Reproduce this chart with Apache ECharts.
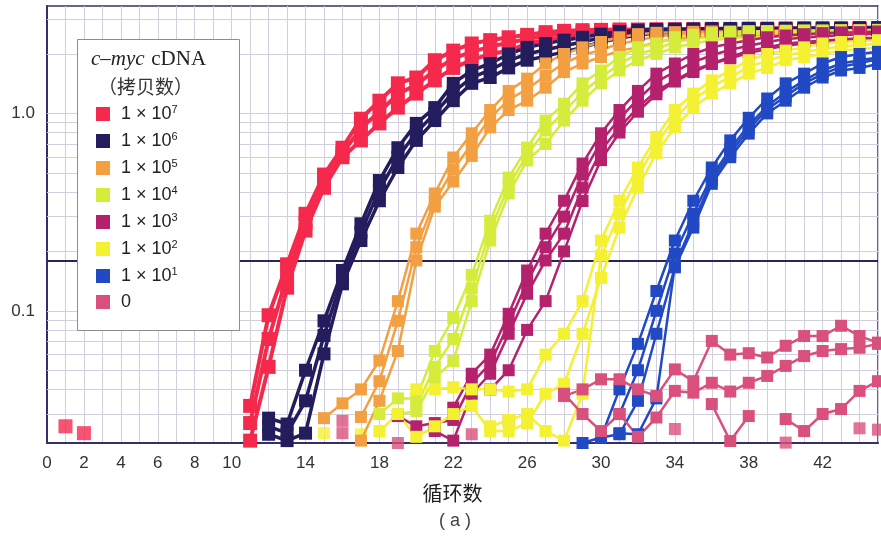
<!DOCTYPE html>
<html>

<head>
  <meta charset="utf-8">
  <title>c-myc cDNA 扩增曲线</title>
  <style>
    html, body { margin: 0; padding: 0; background: #fff; }
    #main { width: 881px; height: 536px; }
  </style>
</head>

<body>
  <div id="main"></div>
  <script type="text/javascript" src="https://cdn.jsdelivr.net/npm/echarts@6/dist/echarts.min.js"></script>
  <script type="text/javascript">
    // 坐标轴
    const xTickLabels = [0, 2, 4, 6, 8, 10, 14, 18, 22, 26, 30, 34, 38, 42];
    const gridValues = [0.03, 0.04, 0.05, 0.06, 0.07, 0.08, 0.09, 0.1, 0.2, 0.3, 0.4, 0.5, 0.6, 0.7, 0.8, 0.9, 1, 2, 3];
    const threshold = 0.18;

    // 图例
    const groupNames = ['1 × 10^7', '1 × 10^6', '1 × 10^5', '1 × 10^4', '1 × 10^3', '1 × 10^2', '1 × 10^1', '0'];
    const groupColors = ['#f4294c', '#231d5e', '#f3a043', '#d5ec3c', '#b4226e', '#f4f032', '#2149c4', '#d9507c'];

    // 每个复孔: [起始循环, 逐循环荧光值]
    const rep7 = [
      [11, [0.033, 0.095, 0.172, 0.31, 0.49, 0.67, 0.94, 1.16, 1.42, 1.52, 1.86, 2.08, 2.26, 2.35, 2.43, 2.5, 2.58, 2.62, 2.64, 2.65, 2.66, 2.66, 2.67, 2.67, 2.67, 2.68, 2.68, 2.68, 2.68, 2.69, 2.69, 2.69, 2.69, 2.69, 2.7]],
      [11, [0.022, 0.052, 0.131, 0.255, 0.42, 0.6, 0.73, 0.89, 1.07, 1.26, 1.47, 1.7, 1.86, 2.0, 2.08, 2.26, 2.35, 2.45, 2.5, 2.55, 2.58, 2.6, 2.62, 2.63, 2.64, 2.65, 2.65, 2.66, 2.66, 2.67, 2.67, 2.67, 2.68, 2.68, 2.68]],
      [11, [0.027, 0.072, 0.15, 0.28, 0.46, 0.63, 0.84, 1.02, 1.25, 1.4, 1.65, 1.9, 2.05, 2.18, 2.28, 2.38, 2.48, 2.55, 2.58, 2.6, 2.61, 2.62, 2.63, 2.63, 2.64, 2.64, 2.65, 2.65, 2.65, 2.66, 2.66, 2.66, 2.66, 2.67, 2.67]]
    ];
    const rep6 = [
      [12, [0.0286, 0.0267, 0.05, 0.089, 0.16, 0.276, 0.457, 0.67, 0.89, 1.07, 1.42, 1.65, 1.79, 2.0, 2.16, 2.26, 2.35, 2.43, 2.52, 2.6, 2.64, 2.66, 2.67, 2.68, 2.69, 2.69, 2.7, 2.7, 2.7, 2.71, 2.71, 2.71, 2.72, 2.72]],
      [12, [0.0237, 0.022, 0.024, 0.0605, 0.137, 0.227, 0.361, 0.532, 0.73, 0.92, 1.16, 1.42, 1.52, 1.7, 1.86, 1.95, 2.05, 2.16, 2.3, 2.4, 2.5, 2.55, 2.58, 2.6, 2.61, 2.62, 2.63, 2.64, 2.64, 2.65, 2.65, 2.66, 2.66, 2.66]],
      [12, [0.026, 0.024, 0.035, 0.075, 0.148, 0.25, 0.41, 0.6, 0.8, 1.0, 1.28, 1.52, 1.66, 1.85, 2.0, 2.1, 2.2, 2.3, 2.42, 2.5, 2.56, 2.6, 2.62, 2.63, 2.64, 2.65, 2.65, 2.66, 2.66, 2.67, 2.67, 2.67, 2.68, 2.68]]
    ];
    const rep5 = [
      [15, [0.0286, 0.034, 0.04, 0.056, 0.112, 0.246, 0.393, 0.598, 0.793, 1.04, 1.3, 1.5, 1.79, 2.0, 2.16, 2.3, 2.43, 2.52, 2.56, 2.58, 2.59, 2.6, 2.6, 2.61, 2.61, 2.62, 2.62, 2.62, 2.63, 2.63, 2.63]],
      [17, [0.022, 0.035, 0.0626, 0.18, 0.337, 0.452, 0.609, 0.85, 1.04, 1.16, 1.35, 1.62, 1.79, 1.93, 2.08, 2.16, 2.3, 2.38, 2.42, 2.45, 2.47, 2.49, 2.5, 2.51, 2.52, 2.53, 2.53, 2.54, 2.54]],
      [17, [0.029, 0.044, 0.089, 0.21, 0.36, 0.52, 0.7, 0.95, 1.17, 1.33, 1.55, 1.8, 1.97, 2.1, 2.25, 2.35, 2.45, 2.5, 2.53, 2.55, 2.56, 2.57, 2.58, 2.58, 2.59, 2.59, 2.6, 2.6, 2.6]]
    ];
    const rep4 = [
      [18, [0.03, 0.036, 0.036, 0.0626, 0.092, 0.152, 0.286, 0.473, 0.671, 0.92, 1.12, 1.42, 1.65, 1.93, 2.16, 2.26, 2.43, 2.5, 2.55, 2.58, 2.6, 2.61, 2.62, 2.63, 2.63, 2.64, 2.64, 2.65]],
      [19, [0.03, 0.031, 0.0457, 0.0557, 0.112, 0.227, 0.393, 0.578, 0.7, 0.92, 1.16, 1.42, 1.65, 1.86, 2.0, 2.16, 2.26, 2.35, 2.4, 2.43, 2.45, 2.47, 2.48, 2.49, 2.5, 2.5, 2.51]],
      [20, [0.033, 0.052, 0.072, 0.13, 0.255, 0.43, 0.62, 0.82, 1.02, 1.28, 1.52, 1.78, 2.0, 2.12, 2.3, 2.38, 2.45, 2.5, 2.53, 2.55, 2.57, 2.58, 2.59, 2.6, 2.6, 2.61]]
    ];
    const rep3 = [
      [22, [0.0323, 0.048, 0.06, 0.0966, 0.16, 0.246, 0.361, 0.557, 0.793, 1.04, 1.3, 1.59, 1.79, 2.0, 2.16, 2.26, 2.35, 2.43, 2.48, 2.52, 2.55, 2.57, 2.58, 2.6]],
      [21, [0.0246, 0.022, 0.038, 0.048, 0.0765, 0.122, 0.18, 0.246, 0.421, 0.649, 0.85, 1.07, 1.3, 1.47, 1.65, 1.79, 1.93, 2.08, 2.16, 2.26, 2.3, 2.34, 2.37, 2.4, 2.42]],
      [19, [0.0293, 0.026, 0.027, 0.028, 0.043, 0.054, 0.086, 0.14, 0.21, 0.3, 0.49, 0.72, 0.94, 1.18, 1.44, 1.63, 1.82, 1.97, 2.1, 2.2, 2.3, 2.38, 2.42, 2.46, 2.49, 2.52, 2.54]],
      [24, [0.04, 0.05, 0.08, 0.112, 0.2, 0.36, 0.58, 0.8, 1.02, 1.25, 1.45, 1.62, 1.78, 1.9, 2.02, 2.12, 2.2, 2.26, 2.3, 2.33, 2.36, 2.38]]
    ];
    const rep2 = [
      [20, [0.04, 0.04, 0.041, 0.04, 0.04, 0.039, 0.04, 0.06, 0.0765, 0.112, 0.227, 0.361, 0.532, 0.76, 1.04, 1.26, 1.47, 1.65, 1.86, 2.0, 2.08, 2.16, 2.26, 2.3, 2.33, 2.35]],
      [18, [0.0246, 0.03, 0.023, 0.026, 0.03, 0.033, 0.0246, 0.0246, 0.027, 0.038, 0.0426, 0.0765, 0.147, 0.264, 0.421, 0.63, 0.85, 1.07, 1.26, 1.42, 1.59, 1.7, 1.86, 1.93, 2.0, 2.08, 2.12, 2.15]],
      [24, [0.026, 0.028, 0.03, 0.0246, 0.022, 0.038, 0.19, 0.31, 0.48, 0.7, 0.95, 1.17, 1.37, 1.53, 1.72, 1.85, 1.97, 2.05, 2.12, 2.18, 2.22, 2.25]]
    ];
    const rep1 = [
      [30, [0.0228, 0.04, 0.068, 0.126, 0.227, 0.361, 0.532, 0.73, 0.95, 1.19, 1.42, 1.59, 1.79, 1.93, 2.0, 2.05]],
      [29, [0.0214, 0.0228, 0.0237, 0.035, 0.0765, 0.166, 0.264, 0.44, 0.6, 0.79, 1.0, 1.16, 1.35, 1.52, 1.65, 1.7, 1.78]],
      [31, [0.03, 0.05, 0.1, 0.195, 0.31, 0.48, 0.66, 0.87, 1.09, 1.28, 1.47, 1.65, 1.79, 1.86, 1.92]],
      [31, [0.024, 0.0237, 0.036, 0.17, 0.28, 0.46, 0.63, 0.83, 1.05, 1.22, 1.42, 1.58, 1.72, 1.8, 1.88]]
    ];
    const rep0 = [
      [28, [0.037, 0.04, 0.045, 0.045, 0.04, 0.037, 0.0505, 0.044, 0.0704, 0.06, 0.061, 0.058, 0.0665, 0.0745, 0.0745, 0.084, 0.0745, 0.069]],
      [28, [0.038, 0.03, 0.0246, 0.03, 0.023, 0.0288, 0.0393, 0.0385, 0.0432, 0.039, 0.0432, 0.0468, 0.0526, 0.059, 0.0626, 0.064, 0.065, 0.068]],
      [36, [0.0337, 0.0219, 0.0293, null, 0.0283, 0.0246, 0.03, 0.0318, 0.0393, 0.044]]
    ];

    // 不连线的单个点 [循环, 荧光值]
    const loose7 = [[1, 0.026], [2, 0.024]];
    const loose2 = [[15, 0.024], [17, 0.0237]];
    const loose0 = [[16, 0.0277], [16, 0.024], [19, 0.0214], [21, 0.0252], [23, 0.0237], [25, 0.0277], [34, 0.0252], [40, 0.0215], [44, 0.0254], [45, 0.025]];

    const allReps = [rep7, rep6, rep5, rep4, rep3, rep2, rep1, rep0];
    const allLoose = [loose7, [], [], [], [], loose2, [], loose0];

    const series = [];
    // 对数坐标纸的横线
    series.push({
      type: 'line',
      name: 'grid',
      data: [],
      silent: true,
      markLine: {
        silent: true,
        z: 1,
        symbol: 'none',
        label: { show: false },
        lineStyle: { color: '#d2cedd', width: 1, type: 'solid' },
        data: gridValues.map(v => ({ yAxis: v }))
      }
    });
    // 阈值线
    series.push({
      type: 'line',
      name: 'threshold',
      data: [],
      silent: true,
      markLine: {
        silent: true,
        z: 1,
        symbol: ['rect', 'none'],
        symbolSize: [9, 0],
        label: { show: false },
        lineStyle: { color: '#2a2554', width: 2, type: 'solid' },
        itemStyle: { color: '#2a2554' },
        data: [{ yAxis: threshold }]
      }
    });

    allReps.forEach((reps, g) => {
      const color = groupColors[g];
      const width = g === 0 ? 4 : (g === 1 ? 3.5 : 2.5);
      const size = g === 0 ? 14 : (g === 1 ? 13 : 12);
      reps.forEach(([start, vals]) => {
        series.push({
          name: groupNames[g],
          type: 'line',
          data: vals.map((v, i) => [start + i, v]),
          symbol: 'rect',
          symbolSize: size,
          showSymbol: true,
          lineStyle: { color: color, width: width },
          itemStyle: { color: color },
          emphasis: { disabled: true }
        });
      });
      if (allLoose[g].length) {
        series.push({
          name: groupNames[g],
          type: 'scatter',
          data: allLoose[g],
          symbol: 'rect',
          symbolSize: size,
          itemStyle: { color: color },
          emphasis: { disabled: true }
        });
      }
    });

    const option = {
      animation: false,
      backgroundColor: '#fff',
      grid: {
        left: 47, right: -8, top: 6, bottom: 93,
        show: true, borderColor: '#35306a', borderWidth: 1.5
      },
      xAxis: {
        type: 'value',
        min: 0,
        max: 45,
        interval: 1,
        axisLine: { lineStyle: { color: '#35306a', width: 2 } },
        axisTick: { show: false },
        axisLabel: {
          formatter: v => (xTickLabels.includes(v) ? String(v) : ''),
          fontSize: 17,
          color: '#333',
          fontFamily: 'Liberation Sans',
          margin: 12
        },
        splitLine: { show: true, lineStyle: { color: '#d2cedd', width: 1 } },
        name: '循环数',
        nameLocation: 'middle',
        nameGap: 40,
        nameTextStyle: { fontSize: 20, color: '#222', fontFamily: 'Noto Sans CJK SC', padding: [0, 20, 0, 0] }
      },
      yAxis: {
        type: 'log',
        logBase: 10,
        min: 0.0214,
        max: 3.5,
        axisLine: { show: true, lineStyle: { color: '#35306a', width: 2 } },
        axisTick: { show: false },
        axisLabel: {
          formatter: v => (Math.abs(v - 1) < 1e-6 ? '1.0' : (Math.abs(v - 0.1) < 1e-7 ? '0.1' : '')),
          fontSize: 17,
          color: '#333',
          fontFamily: 'Liberation Sans',
          margin: 12
        },
        splitLine: { show: false }
      },
      legend: {
        data: groupNames,
        orient: 'vertical',
        left: 96,
        top: 104,
        padding: 0,
        itemWidth: 14,
        itemHeight: 14,
        itemGap: 8,
        icon: 'rect',
        selectedMode: false,
        z: 20,
        formatter: name => {
          const p = name.split('^');
          return p.length > 1 ? `{b|${p[0]}}{s|${p[1]}}` : `{b|${name}}`;
        },
        textStyle: {
          padding: [0, 0, 0, 6],
          rich: {
            b: { fontSize: 18, fontFamily: 'Liberation Sans', color: '#222', lineHeight: 20 },
            s: { fontSize: 11, fontFamily: 'Liberation Sans', color: '#222', lineHeight: 12, verticalAlign: 'top' }
          }
        }
      },
      graphic: [
        {
          type: 'rect', left: 77, top: 39, z: 10,
          shape: { width: 162, height: 291 },
          style: { fill: '#fff', stroke: '#8c8c8c', lineWidth: 1 }
        },
        {
          type: 'text', left: 91, top: 49, z: 11,
          style: {
            text: '{i|c–myc}  {n|cDNA}',
            rich: {
              i: { fontSize: 21, fontFamily: 'Liberation Serif', fontStyle: 'italic', fill: '#222' },
              n: { fontSize: 21, fontFamily: 'Liberation Serif', fill: '#222' }
            }
          }
        },
        {
          type: 'text', left: 98, top: 77, z: 11,
          style: { text: '（拷贝数）', fontSize: 19, fontFamily: 'Noto Sans CJK SC', fill: '#333' }
        },
        {
          type: 'text', left: 439, top: 512, z: 11,
          style: { text: '( a )', fontSize: 18, fontFamily: 'Liberation Sans', fill: '#444' }
        }
      ],
      series: series
    };

    var myChart = echarts.init(document.getElementById('main'));
    myChart.setOption(option);
  </script>
</body>

</html>
